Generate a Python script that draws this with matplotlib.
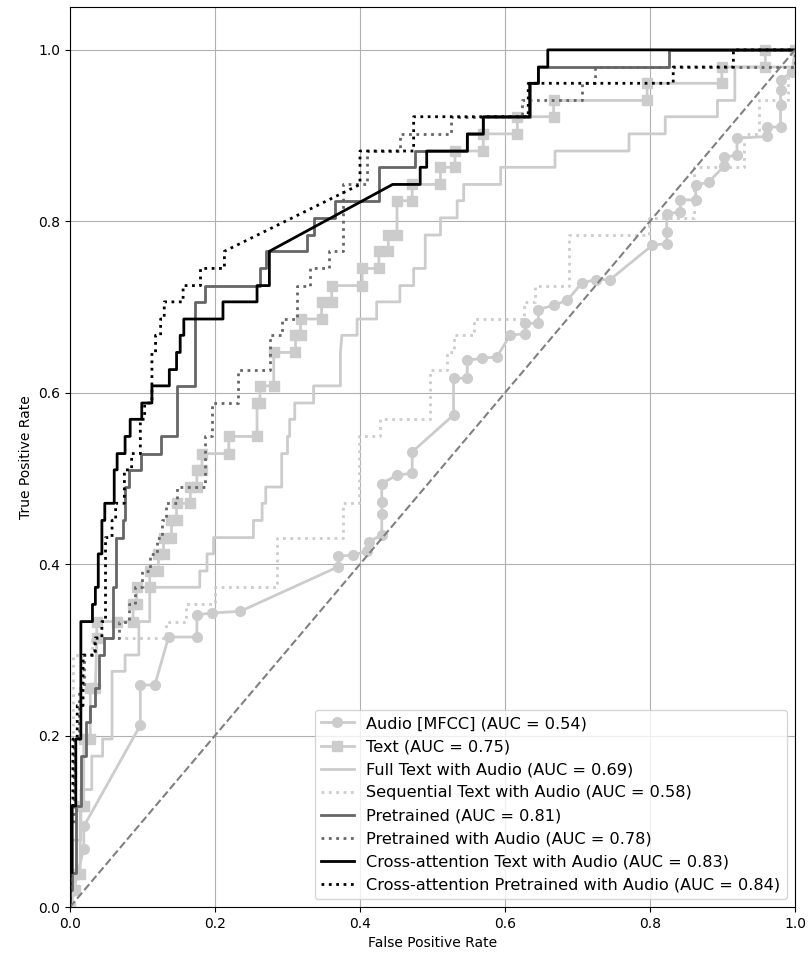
import matplotlib
matplotlib.use("Agg")
import matplotlib.pyplot as plt

# ROC points (fpr, tpr)
roc_audio = [(0.0, 0.0), (0.005, 0.02), (0.019, 0.068), (0.019, 0.094), (0.097, 0.212), (0.097, 0.259),
             (0.117, 0.259), (0.136, 0.315), (0.175, 0.315), (0.175, 0.341), (0.196, 0.343), (0.235, 0.345),
             (0.37, 0.397), (0.37, 0.409), (0.391, 0.411), (0.41, 0.415), (0.412, 0.426), (0.43, 0.434),
             (0.43, 0.459), (0.43, 0.473), (0.43, 0.494), (0.451, 0.504), (0.472, 0.506), (0.472, 0.531),
             (0.529, 0.574), (0.529, 0.617), (0.548, 0.617), (0.548, 0.638), (0.568, 0.64), (0.589, 0.642),
             (0.607, 0.667), (0.628, 0.669), (0.628, 0.681), (0.646, 0.681), (0.646, 0.697), (0.667, 0.702),
             (0.686, 0.708), (0.706, 0.728), (0.725, 0.732), (0.745, 0.732), (0.803, 0.772), (0.823, 0.774),
             (0.823, 0.788), (0.823, 0.809), (0.842, 0.811), (0.842, 0.825), (0.863, 0.825), (0.863, 0.842),
             (0.881, 0.846), (0.902, 0.864), (0.902, 0.875), (0.92, 0.877), (0.92, 0.897), (0.962, 0.899),
             (0.962, 0.91), (0.98, 0.91), (0.98, 0.936), (0.98, 0.953), (0.98, 0.965), (0.996, 0.974),
             (1.0, 1.0)]

roc_text = [(0.0, 0.0), (0.007, 0.02), (0.007, 0.039), (0.014, 0.039), (0.014, 0.118), (0.019, 0.118),
            (0.019, 0.196), (0.028, 0.196), (0.028, 0.255), (0.035, 0.255), (0.037, 0.314), (0.037, 0.333),
            (0.065, 0.333), (0.087, 0.333), (0.087, 0.353), (0.092, 0.353), (0.092, 0.373), (0.11, 0.373),
            (0.11, 0.392), (0.122, 0.392), (0.122, 0.412), (0.129, 0.412), (0.129, 0.431), (0.14, 0.431),
            (0.14, 0.451), (0.147, 0.451), (0.147, 0.471), (0.166, 0.471), (0.166, 0.49), (0.175, 0.49),
            (0.175, 0.51), (0.182, 0.51), (0.182, 0.529), (0.219, 0.529), (0.219, 0.549), (0.258, 0.549),
            (0.258, 0.588), (0.262, 0.588), (0.262, 0.608), (0.281, 0.608), (0.281, 0.647), (0.311, 0.647),
            (0.311, 0.667), (0.318, 0.667), (0.318, 0.686), (0.347, 0.686), (0.347, 0.706), (0.361, 0.706),
            (0.361, 0.725), (0.403, 0.725), (0.403, 0.745), (0.426, 0.745), (0.426, 0.765), (0.439, 0.765),
            (0.439, 0.784), (0.451, 0.784), (0.451, 0.824), (0.472, 0.824), (0.472, 0.843), (0.511, 0.843),
            (0.511, 0.863), (0.531, 0.863), (0.531, 0.882), (0.57, 0.882), (0.57, 0.902), (0.617, 0.902),
            (0.617, 0.922), (0.667, 0.922), (0.667, 0.941), (0.796, 0.941), (0.796, 0.961), (0.899, 0.961),
            (0.899, 0.98), (0.959, 0.98), (0.959, 1.0), (1.0, 1.0)]

roc_full = [(0.0, 0.0), (0.003, 0.0), (0.003, 0.078), (0.015, 0.078), (0.015, 0.137), (0.03, 0.137),
            (0.03, 0.176), (0.045, 0.176), (0.045, 0.196), (0.058, 0.196), (0.058, 0.275), (0.076, 0.275),
            (0.076, 0.294), (0.095, 0.294), (0.095, 0.333), (0.11, 0.333), (0.11, 0.373), (0.179, 0.373),
            (0.179, 0.392), (0.189, 0.392), (0.189, 0.412), (0.198, 0.412), (0.198, 0.431), (0.253, 0.431),
            (0.253, 0.451), (0.265, 0.451), (0.265, 0.471), (0.27, 0.471), (0.27, 0.49), (0.292, 0.49),
            (0.292, 0.529), (0.3, 0.529), (0.3, 0.549), (0.303, 0.549), (0.303, 0.569), (0.31, 0.569),
            (0.31, 0.588), (0.336, 0.588), (0.336, 0.608), (0.373, 0.608), (0.373, 0.647), (0.375, 0.667),
            (0.396, 0.667), (0.396, 0.686), (0.423, 0.686), (0.423, 0.706), (0.455, 0.706), (0.455, 0.725),
            (0.474, 0.725), (0.474, 0.745), (0.49, 0.745), (0.49, 0.784), (0.511, 0.784), (0.511, 0.804),
            (0.534, 0.804), (0.534, 0.824), (0.543, 0.824), (0.543, 0.843), (0.594, 0.843), (0.594, 0.863),
            (0.669, 0.863), (0.669, 0.882), (0.771, 0.882), (0.771, 0.902), (0.821, 0.902), (0.821, 0.922),
            (0.893, 0.922), (0.893, 0.941), (0.917, 0.941), (0.917, 0.98), (1.0, 0.98), (1.0, 1.0)]

roc_seq = [(0.0, 0.0), (0.0, 0.118), (0.004, 0.118), (0.004, 0.294), (0.031, 0.294), (0.031, 0.314),
           (0.133, 0.314), (0.133, 0.333), (0.16, 0.333), (0.16, 0.353), (0.2, 0.353), (0.2, 0.373),
           (0.285, 0.373), (0.285, 0.431), (0.377, 0.431), (0.377, 0.471), (0.398, 0.471), (0.398, 0.549),
           (0.428, 0.549), (0.428, 0.569), (0.497, 0.569), (0.497, 0.627), (0.52, 0.627), (0.52, 0.647),
           (0.53, 0.647), (0.53, 0.667), (0.557, 0.667), (0.557, 0.686), (0.626, 0.686), (0.626, 0.706),
           (0.642, 0.706), (0.642, 0.725), (0.688, 0.725), (0.688, 0.784), (0.798, 0.784), (0.798, 0.804),
           (0.86, 0.804), (0.86, 0.863), (0.929, 0.863), (0.929, 0.902), (0.95, 0.902), (0.95, 0.941),
           (0.99, 0.941), (0.99, 0.98), (1.0, 0.98), (1.0, 1.0)]

roc_pre = [(0.0, 0.0), (0.0, 0.02), (0.003, 0.02), (0.003, 0.04), (0.008, 0.04), (0.008, 0.118),
           (0.015, 0.118), (0.015, 0.176), (0.022, 0.176), (0.022, 0.216), (0.028, 0.216), (0.028, 0.235),
           (0.035, 0.235), (0.035, 0.255), (0.04, 0.255), (0.04, 0.294), (0.047, 0.294), (0.047, 0.314),
           (0.06, 0.314), (0.06, 0.373), (0.063, 0.373), (0.063, 0.431), (0.073, 0.431), (0.073, 0.451),
           (0.076, 0.451), (0.076, 0.49), (0.081, 0.49), (0.081, 0.51), (0.098, 0.51), (0.098, 0.529),
           (0.125, 0.529), (0.125, 0.549), (0.148, 0.549), (0.148, 0.608), (0.173, 0.608), (0.173, 0.706),
           (0.186, 0.706), (0.186, 0.725), (0.262, 0.725), (0.262, 0.745), (0.271, 0.745), (0.271, 0.765),
           (0.327, 0.765), (0.327, 0.784), (0.336, 0.784), (0.336, 0.804), (0.366, 0.804), (0.366, 0.824),
           (0.426, 0.824), (0.426, 0.863), (0.476, 0.863), (0.476, 0.882), (0.548, 0.882), (0.548, 0.902),
           (0.57, 0.902), (0.57, 0.922), (0.634, 0.922), (0.634, 0.961), (0.646, 0.961), (0.646, 0.98),
           (0.826, 0.98), (0.826, 1.0), (1.0, 1.0)]

roc_pre_audio = [(0.0, 0.0), (0.0, 0.098), (0.006, 0.098), (0.006, 0.196), (0.013, 0.196), (0.013, 0.255),
                 (0.02, 0.255), (0.02, 0.294), (0.033, 0.294), (0.033, 0.314), (0.067, 0.314), (0.067, 0.333),
                 (0.081, 0.333), (0.081, 0.353), (0.09, 0.353), (0.09, 0.373), (0.1, 0.373), (0.1, 0.392),
                 (0.11, 0.392), (0.11, 0.412), (0.12, 0.412), (0.12, 0.431), (0.127, 0.431), (0.127, 0.451),
                 (0.132, 0.451), (0.132, 0.471), (0.147, 0.471), (0.147, 0.49), (0.186, 0.49), (0.186, 0.549),
                 (0.196, 0.549), (0.196, 0.588), (0.232, 0.588), (0.232, 0.627), (0.276, 0.627), (0.276, 0.667),
                 (0.292, 0.667), (0.292, 0.686), (0.313, 0.686), (0.313, 0.725), (0.331, 0.725), (0.331, 0.745),
                 (0.357, 0.745), (0.357, 0.765), (0.377, 0.765), (0.377, 0.843), (0.41, 0.843), (0.41, 0.882),
                 (0.455, 0.882), (0.455, 0.902), (0.525, 0.902), (0.525, 0.922), (0.624, 0.922), (0.624, 0.941),
                 (0.706, 0.941), (0.706, 0.961), (0.724, 0.961), (0.724, 0.98), (1.0, 0.98), (1.0, 1.0)]

roc_cross = [(0.0, 0.0), (0.0, 0.04), (0.003, 0.04), (0.003, 0.118), (0.008, 0.118), (0.008, 0.196),
             (0.015, 0.196), (0.015, 0.333), (0.031, 0.333), (0.031, 0.353), (0.035, 0.353), (0.035, 0.373),
             (0.039, 0.373), (0.039, 0.412), (0.044, 0.412), (0.044, 0.451), (0.048, 0.451), (0.048, 0.471),
             (0.061, 0.471), (0.061, 0.51), (0.065, 0.51), (0.065, 0.529), (0.076, 0.529), (0.076, 0.549),
             (0.083, 0.549), (0.083, 0.569), (0.099, 0.569), (0.099, 0.588), (0.113, 0.588), (0.113, 0.608),
             (0.137, 0.608), (0.137, 0.627), (0.147, 0.627), (0.147, 0.647), (0.152, 0.647), (0.152, 0.667),
             (0.157, 0.667), (0.157, 0.686), (0.211, 0.686), (0.211, 0.706), (0.258, 0.706), (0.258, 0.725),
             (0.275, 0.725), (0.275, 0.765), (0.445, 0.843), (0.483, 0.843), (0.483, 0.863), (0.492, 0.863),
             (0.492, 0.882), (0.548, 0.882), (0.548, 0.902), (0.57, 0.902), (0.57, 0.922), (0.634, 0.922),
             (0.634, 0.961), (0.646, 0.961), (0.646, 0.98), (0.659, 0.98), (0.659, 1.0), (1.0, 1.0)]

roc_cross_pre = [(0.0, 0.0), (0.0, 0.118), (0.004, 0.118), (0.004, 0.196), (0.01, 0.196), (0.01, 0.235),
                 (0.018, 0.235), (0.018, 0.294), (0.035, 0.294), (0.035, 0.314), (0.044, 0.314), (0.044, 0.333),
                 (0.049, 0.333), (0.049, 0.431), (0.058, 0.431), (0.058, 0.451), (0.063, 0.451), (0.063, 0.471),
                 (0.075, 0.471), (0.075, 0.51), (0.085, 0.51), (0.085, 0.529), (0.097, 0.529), (0.097, 0.569),
                 (0.103, 0.569), (0.103, 0.588), (0.113, 0.588), (0.113, 0.647), (0.118, 0.647), (0.118, 0.667),
                 (0.125, 0.667), (0.125, 0.686), (0.13, 0.686), (0.13, 0.706), (0.156, 0.706), (0.156, 0.725),
                 (0.18, 0.725), (0.18, 0.745), (0.213, 0.745), (0.213, 0.765), (0.4, 0.843), (0.4, 0.882),
                 (0.474, 0.882), (0.474, 0.922), (0.632, 0.922), (0.632, 0.961), (0.832, 0.961), (0.832, 0.98),
                 (0.915, 0.98), (0.915, 1.0), (1.0, 1.0)]

labels = ["Audio [MFCC] (AUC = 0.54)", "Text (AUC = 0.75)", "Full Text with Audio (AUC = 0.69)",
          "Sequential Text with Audio (AUC = 0.58)", "Pretrained (AUC = 0.81)",
          "Pretrained with Audio (AUC = 0.78)", "Cross-attention Text with Audio (AUC = 0.83)",
          "Cross-attention Pretrained with Audio (AUC = 0.84)"]

curves = [roc_audio, roc_text, roc_full, roc_seq, roc_pre, roc_pre_audio, roc_cross, roc_cross_pre]
styles = [
    dict(color="#cccccc", ls="-", marker="o", ms=7),
    dict(color="#cccccc", ls="-", marker="s", ms=7),
    dict(color="#cccccc", ls="-"),
    dict(color="#cccccc", ls=":"),
    dict(color="#666666", ls="-"),
    dict(color="#666666", ls=":"),
    dict(color="black", ls="-"),
    dict(color="black", ls=":"),
]

fig = plt.figure(figsize=(8.11, 9.6), dpi=100)
ax = fig.add_axes([0.0863, 0.0552, 0.8940, 0.9375])

for pts, lab, st in zip(curves, labels, styles):
    fpr = [p[0] for p in pts]
    tpr = [p[1] for p in pts]
    ax.plot(fpr, tpr, lw=2, label=lab, **st)

ax.plot([0, 1], [0, 1], ls="--", color="gray", lw=1.5)

ax.set_xlim(0.0, 1.0)
ax.set_ylim(0.0, 1.05)
ax.set_xlabel("False Positive Rate")
ax.set_ylabel("True Positive Rate")
ax.grid(True)
ax.legend(loc="lower right", fontsize=11.6)

fig.savefig("out.png", dpi=100)
